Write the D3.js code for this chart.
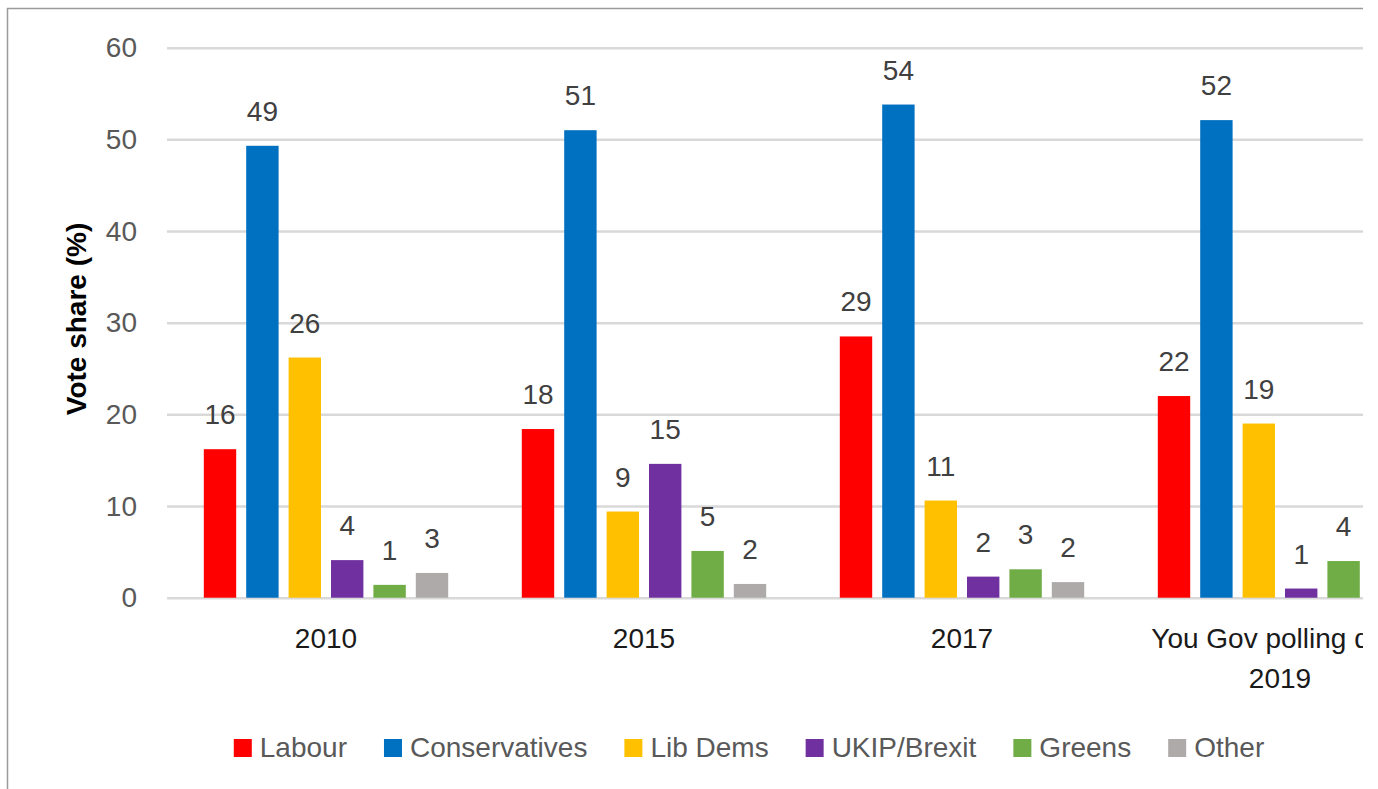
<!DOCTYPE html>
<html>
<head>
<meta charset="utf-8">
<script src="https://cdn.jsdelivr.net/npm/d3@7"></script>
<style>
    body { margin: 0; background: #fff; }
    text { font-family: "Liberation Sans", Arial, sans-serif; }
</style>
</head>
<body>
<div id="chart"></div>
<script>
// vote share by election

const years = ["2010", "2015", "2017", "You Gov polling data 2019"];
const parties = ["Labour", "Conservatives", "Lib Dems", "UKIP/Brexit", "Greens", "Other"];
const partyColors = ["#FF0000", "#0070C0", "#FFC000", "#7030A0", "#70AD47", "#AEAAAA"];

// one array per party, in the order of years
const labour = [16.2, 18.4, 28.5, 22.0];
const conservatives = [49.3, 51.0, 53.8, 52.1];
const libDems = [26.2, 9.4, 10.6, 19.0];
const ukipBrexit = [4.1, 14.6, 2.3, 1.0];
const greens = [1.4, 5.1, 3.1, 4.0];
const other = [2.7, 1.5, 1.7, 2.0];

const yTicks = [0, 10, 20, 30, 40, 50, 60];

const series = [labour, conservatives, libDems, ukipBrexit, greens, other];

const width = 1363, height = 789;

const svg = d3.select("#chart")
    .append("svg")
    .attr("width", width)
    .attr("height", height);

// group scale (one band per year) and bar scale inside a band
const x0 = d3.scaleBand()
    .domain(years)
    .range([167, 167 + 318 * years.length]);

const x1 = d3.scaleBand()
    .domain(parties)
    .range([0, x0.bandwidth()])
    .paddingInner(0.236)
    .paddingOuter(0.868);

const y = d3.scaleLinear()
    .domain([0, 60])
    .range([597.7, 47.7]);

// frame lines (top and left)
svg.append("line")
    .attr("x1", 7).attr("x2", width)
    .attr("y1", 8.5).attr("y2", 8.5)
    .attr("stroke", "#9a9a9a").attr("stroke-width", 1.5);
svg.append("line")
    .attr("x1", 7.5).attr("x2", 7.5)
    .attr("y1", 8).attr("y2", height)
    .attr("stroke", "#9a9a9a").attr("stroke-width", 1.5);

// gridlines + y labels
const yAxis = d3.axisLeft(y)
    .tickValues(yTicks)
    .tickSize(-(x0.range()[1] - 167))
    .tickPadding(30);

const gy = svg.append("g")
    .attr("transform", "translate(167,0)")
    .call(yAxis);
gy.select(".domain").remove();
gy.selectAll(".tick line")
    .attr("stroke", "#D9D9D9")
    .attr("stroke-width", 2.5);
gy.selectAll(".tick text")
    .attr("fill", "#595959")
    .style("font-size", "28px")
    .attr("dy", "0.32em");

svg.append("text")
    .attr("transform", "rotate(-90)")
    .attr("x", -319)
    .attr("y", 86)
    .attr("text-anchor", "middle")
    .attr("fill", "#000")
    .style("font-size", "28px")
    .style("font-weight", "bold")
    .text("Vote share (%)");

// bars
const groups = svg.selectAll(".year")
    .data(years)
    .enter()
    .append("g")
    .attr("class", "year")
    .attr("transform", d => `translate(${x0(d)},0)`);

groups.each(function(year, i) {
    const g = d3.select(this);
    const rows = parties.map((p, j) => ({ party: p, value: series[j][i], color: partyColors[j] }));

    g.selectAll("rect")
        .data(rows)
        .enter()
        .append("rect")
        .attr("x", d => x1(d.party))
        .attr("width", x1.bandwidth())
        .attr("y", d => y(d.value))
        .attr("height", d => y(0) - y(d.value))
        .attr("fill", d => d.color);

    g.selectAll(".val")
        .data(rows)
        .enter()
        .append("text")
        .attr("class", "val")
        .attr("x", d => x1(d.party) + x1.bandwidth() / 2)
        .attr("y", d => y(d.value) - 25)
        .attr("text-anchor", "middle")
        .attr("fill", "#404040")
        .style("font-size", "28px")
        .text(d => d3.format(".0f")(d.value));
});

// category labels (last one wraps onto two lines)
svg.selectAll(".cat")
    .data(years)
    .enter()
    .append("text")
    .attr("class", "cat")
    .attr("x", d => x0(d) + x0.bandwidth() / 2)
    .attr("y", 648)
    .attr("text-anchor", "middle")
    .attr("fill", "#1a1a1a")
    .style("font-size", "28px")
    .each(function(d) {
        const parts = d.length > 10 ? [d.replace(/ 2019$/, ""), "2019"] : [d];
        parts.forEach((t, k) => {
            d3.select(this).append("tspan")
                .attr("x", x0(d) + x0.bandwidth() / 2)
                .attr("dy", k === 0 ? 0 : 40)
                .text(t);
        });
    });

// legend
const legend = svg.append("g");
let lx = 0;
parties.forEach((p, j) => {
    const item = legend.append("g").attr("transform", `translate(${lx},0)`);
    item.append("rect")
        .attr("x", 0).attr("y", -18)
        .attr("width", 18).attr("height", 18)
        .attr("fill", partyColors[j]);
    const t = item.append("text")
        .attr("x", 26).attr("y", 0)
        .attr("fill", "#595959")
        .style("font-size", "28px")
        .text(p);
    lx += 26 + t.node().getComputedTextLength() + 37;
});
const legendWidth = lx - 37;
legend.attr("transform", `translate(${749 - legendWidth / 2},757)`);
</script>
</body>
</html>
